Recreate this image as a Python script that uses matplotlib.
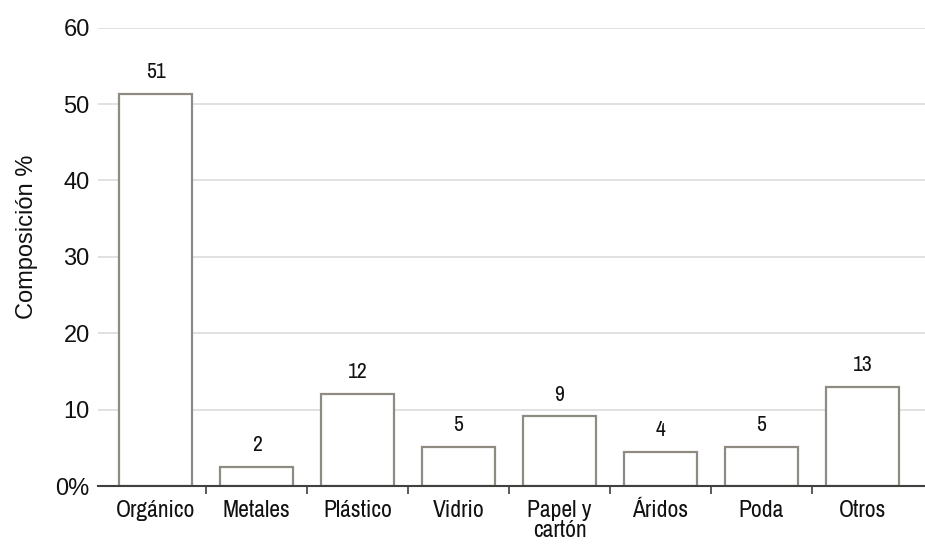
import matplotlib
matplotlib.use("Agg")
import matplotlib.pyplot as plt
from matplotlib import font_manager as fm
import numpy as np

categories = ["Orgánico", "Metales", "Plástico", "Vidrio", "Papel y\ncartón", "Áridos", "Poda", "Otros"]
values = [51.3, 2.5, 12.1, 5.1, 9.1, 4.5, 5.1, 13.0]
value_labels = ["51", "2", "12", "5", "9", "4", "5", "13"]
yticks = [0, 10, 20, 30, 40, 50, 60]
ytick_labels = ["0%", "10", "20", "30", "40", "50", "60"]

names = {f.name for f in fm.fontManager.ttflist}
narrow = next((n for n in ["Archivo Narrow", "Roboto Condensed", "PT Sans Narrow"] if n in names), "DejaVu Sans")
regular = "Liberation Sans"

fig = plt.figure(figsize=(9.25, 5.44), dpi=100)
ax = fig.add_axes([0.106, 0.1066, 0.894, 0.8425])

x = np.arange(len(categories))
ax.bar(x, values, width=0.73, facecolor="white", edgecolor="#8f8b83", linewidth=1.6, zorder=3)

for xi, v, lab in zip(x, values, value_labels):
    ax.annotate(lab, (xi, v), xytext=(0, 11.5), textcoords="offset points",
                ha="center", va="baseline", fontsize=15.5, family=narrow, color="#111111")

ax.set_xlim(-0.57, 7.62)
ax.set_ylim(0, 60)
ax.set_yticks(yticks)
ax.set_yticklabels(ytick_labels, family=regular, fontsize=17, color="#111111")
ax.tick_params(axis="y", length=0, pad=6)
ax.yaxis.grid(True, color="#dcdcdc", linewidth=1.2, zorder=0)
ax.set_axisbelow(True)

ax.set_xticks(x)
ax.set_xticklabels(categories, family=narrow, fontsize=17, color="#111111", linespacing=0.95, va="top")
ax.tick_params(axis="x", which="major", length=0, pad=10)
ax.set_xticks(np.arange(len(categories) - 1) + 0.5, minor=True)
ax.tick_params(axis="x", which="minor", length=6, width=1.2, color="#404040")

for s in ["top", "right", "left"]:
    ax.spines[s].set_visible(False)
ax.spines["bottom"].set_color("#404040")
ax.spines["bottom"].set_linewidth(1.5)
ax.spines["bottom"].set_zorder(4)

ax.set_ylabel("Composición %", family=regular, fontsize=17, color="#111111")
ax.yaxis.set_label_coords(-0.073, 0.544)

fig.savefig("out.png", dpi=100)
